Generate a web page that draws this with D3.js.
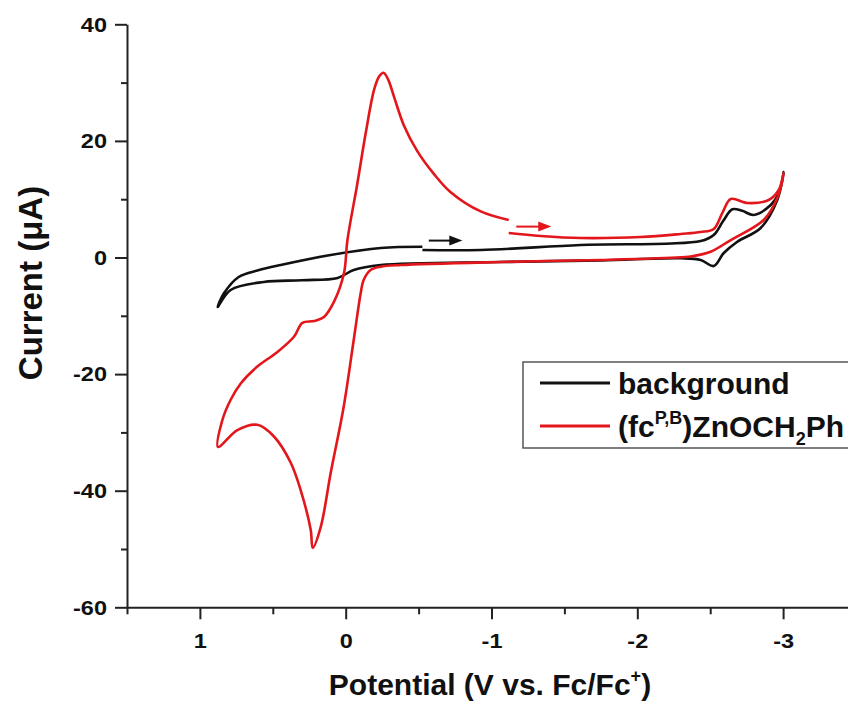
<!DOCTYPE html>
<html>
<head>
<meta charset="utf-8">
<script src="https://cdn.jsdelivr.net/npm/d3@7"></script>
<style>
  html, body { margin: 0; padding: 0; background: #fff; }
  svg { display: block; }
  text { font-family: "Liberation Sans", Arial, sans-serif; font-weight: bold; fill: #111; }
</style>
</head>
<body>
<svg id="chart" width="848" height="705"></svg>
<script>
// ---- Data (potential in V vs Fc/Fc+, current in µA) ----
const xTicks = [1, 0, -1, -2, -3];
const xTickLabels = ["1", "0", "-1", "-2", "-3"];
const xMinorTicks = [1.5, 0.5, -0.5, -1.5, -2.5, -3.5];
const yTicks = [-60, -40, -20, 0, 20, 40];
const yTickLabels = ["-60", "-40", "-20", "0", "20", "40"];
const yMinorTicks = [-50, -30, -10, 10, 30];

const backgroundV = [-0.526, -0.926, -1.61, -2.435, -2.524, -2.59, -2.652, -2.72, -2.798, -2.915, -2.97, -3.004,
  -2.96, -2.846, -2.686, -2.593, -2.524, -2.435, -2.298, -1.75, -1.06, -0.24, -0.055, 0.055, 0.30, 0.562, 0.789, 0.878,
  0.835, 0.734, 0.60, 0.446, 0.103, -0.24, -0.526];
const backgroundI = [1.29, 1.29, 2.14, 2.83, 3.86, 6.3, 8.27, 8.0, 7.29, 9.0, 11.0, 14.67,
  9.86, 5.06, 2.71, 0.77, -1.46, -0.43, -0.14, -0.5, -0.77, -1.29, -2.14, -3.5, -3.9, -4.2, -5.57, -8.49,
  -6.14, -3.34, -2.2, -1.29, 0.43, 1.63, 1.85];

const complexV = [-1.118, -1.337, -1.612, -2.023, -2.298, -2.435, -2.524, -2.586, -2.641, -2.757, -2.901, -2.970, -3.004,
  -2.963, -2.867, -2.641, -2.503, -2.387, -2.298, -1.749, -1.063, -0.377, -0.240, -0.171, -0.123, -0.103, -0.055, 0.014, 0.103, 0.171, 0.226,
  0.240, 0.309, 0.377, 0.492, 0.606, 0.743, 0.876,
  0.846, 0.789, 0.720, 0.606, 0.468, 0.355, 0.297, 0.217, 0.149, 0.080, 0.012, -0.012, -0.080, -0.137, -0.194, -0.228, -0.259,
  -0.290, -0.331, -0.400, -0.492, -0.606, -0.720, -0.926, -1.118];
const complexI = [4.20, 3.69, 3.34, 3.52, 4.03, 4.37, 4.89, 7.80, 10.03, 9.35, 9.86, 11.58, 14.49,
  10.38, 6.43, 3.00, 0.99, 0.26, 0.03, -0.43, -0.77, -1.29, -1.58, -2.14, -3.86, -6.09, -14.15, -25.64, -36.96, -46.2, -49.8,
  -46.7, -39.9, -35.2, -30.7, -28.7, -29.6, -32.5,
  -27.9, -24.4, -21.6, -18.7, -16.2, -13.6, -11.2, -10.9, -10.2, -7.58, -2.71, 3.0, 12.7, 21.3, 28.7, 31.0, 31.7,
  30.6, 27.6, 22.6, 18.2, 14.3, 11.2, 7.9, 6.43];

// scan-direction arrows: [startV, endV, I]
const blackArrow = [-0.57, -0.80, 2.9];
const redArrow = [-1.17, -1.41, 5.3];

const seriesColors = ["#111111", "#e3161b"];

// ---- Layout ----
const svg = d3.select("#chart");
const x = d3.scaleLinear().domain([1.5, -3.5]).range([127, 856]);
const y = d3.scaleLinear().domain([-60, 40]).range([607.3, 24.3]);

const axisColor = "#222";
const tickFont = 21, stretch = 1.12;

// Y axis
const gy = svg.append("g").attr("transform", `translate(${x(1.5)},0)`);
gy.call(d3.axisLeft(y).tickValues(yTicks).tickSize(12).tickPadding(7).tickSizeOuter(0)
  .tickFormat((d, i) => yTickLabels[i]));
gy.selectAll(".tick text").attr("x", -20 / stretch).attr("transform", `scale(${stretch},1)`);
const gyMinor = svg.append("g").attr("transform", `translate(${x(1.5)},0)`);
gyMinor.call(d3.axisLeft(y).tickValues(yMinorTicks).tickSize(6).tickSizeOuter(0).tickFormat(""));
gyMinor.select(".domain").remove();

// X axis
const gx = svg.append("g").attr("transform", `translate(0,${y(-60)})`);
gx.call(d3.axisBottom(x).tickValues(xTicks).tickSize(12).tickPadding(14).tickSizeOuter(0)
  .tickFormat((d, i) => xTickLabels[i]));
gx.selectAll(".tick text").attr("transform", `scale(${stretch},1)`);
const gxMinor = svg.append("g").attr("transform", `translate(0,${y(-60)})`);
gxMinor.call(d3.axisBottom(x).tickValues(xMinorTicks).tickSize(7).tickSizeOuter(0).tickFormat(""));
gxMinor.select(".domain").remove();

svg.selectAll(".domain").attr("stroke", axisColor).attr("stroke-width", 2);
svg.selectAll(".tick line").attr("stroke", axisColor).attr("stroke-width", 2);
svg.selectAll(".tick text").attr("font-size", tickFont).attr("font-family", "Liberation Sans, Arial, sans-serif")
  .attr("font-weight", "bold").attr("fill", "#111");

// Axis titles
svg.append("text").attr("x", 490).attr("y", 695).attr("text-anchor", "middle").attr("font-size", 30)
  .call(t => {
    t.append("tspan").text("Potential (V vs. Fc/Fc");
    t.append("tspan").attr("font-size", 18).attr("dy", -13).text("+");
    t.append("tspan").attr("dy", 13).text(")");
  });

svg.append("text").attr("transform", "translate(42,283) rotate(-90)").attr("text-anchor", "middle")
  .attr("font-size", 33).text("Current (\u03BCA)");

// Curves
const line = d3.line().x(d => x(d[0])).y(d => y(d[1])).curve(d3.curveCatmullRom.alpha(0.5));
const bgData = backgroundV.map((v, i) => [v, backgroundI[i]]);
const cxData = complexV.map((v, i) => [v, complexI[i]]);

svg.append("path").datum(bgData).attr("d", line).attr("fill", "none")
  .attr("stroke", seriesColors[0]).attr("stroke-width", 2.6).attr("stroke-linejoin", "round");
svg.append("path").datum(cxData).attr("d", line).attr("fill", "none")
  .attr("stroke", seriesColors[1]).attr("stroke-width", 2.6).attr("stroke-linejoin", "round");

// Arrows
function drawArrow(a, color) {
  const x0 = x(a[0]), x1 = x(a[1]), yy = y(a[2]);
  svg.append("line").attr("x1", x0).attr("x2", x1 - 10).attr("y1", yy).attr("y2", yy)
    .attr("stroke", color).attr("stroke-width", 2);
  svg.append("path").attr("d", `M${x1},${yy} L${x1 - 13},${yy - 5} L${x1 - 13},${yy + 5} Z`).attr("fill", color);
}
drawArrow(blackArrow, seriesColors[0]);
drawArrow(redArrow, seriesColors[1]);

// Legend
const lg = svg.append("g");
lg.append("rect").attr("x", 523).attr("y", 362).attr("width", 400).attr("height", 86)
  .attr("fill", "#fff").attr("stroke", "#555").attr("stroke-width", 1.5);
lg.append("line").attr("x1", 540).attr("x2", 610).attr("y1", 383).attr("y2", 383)
  .attr("stroke", seriesColors[0]).attr("stroke-width", 2.8);
lg.append("line").attr("x1", 540).attr("x2", 610).attr("y1", 426).attr("y2", 426)
  .attr("stroke", seriesColors[1]).attr("stroke-width", 2.8);
lg.append("text").attr("x", 618).attr("y", 394).attr("font-size", 30).text("background");
lg.append("text").attr("x", 618).attr("y", 437).attr("font-size", 30)
  .call(t => {
    t.append("tspan").text("(fc");
    t.append("tspan").attr("font-size", 18).attr("dy", -13).text("P,B");
    t.append("tspan").attr("dy", 13).text(")ZnOCH");
    t.append("tspan").attr("font-size", 18).attr("dy", 8).text("2");
    t.append("tspan").attr("dy", -8).text("Ph");
  });
</script>
</body>
</html>
